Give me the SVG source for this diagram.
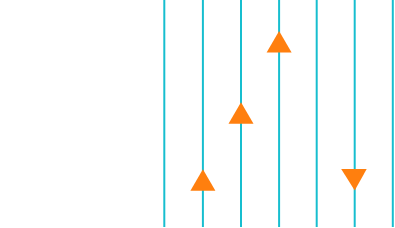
<svg xmlns="http://www.w3.org/2000/svg" width="395" height="228" viewBox="0 0 395 228">
<style>
.ln{stroke:#17becf;stroke-width:2;fill:none}
.tri{fill:#ff7f0e}
</style>
<rect width="395" height="228" fill="#ffffff"/>
<g id="connectors">
<line class="ln" x1="164.3" y1="0" x2="164.3" y2="227"/>
<line class="ln" x1="202.9" y1="0" x2="202.9" y2="227"/>
<line class="ln" x1="241" y1="0" x2="241" y2="227"/>
<line class="ln" x1="279.1" y1="0" x2="279.1" y2="227"/>
<line class="ln" x1="316.7" y1="0" x2="316.7" y2="227"/>
<line class="ln" x1="354.7" y1="0" x2="354.7" y2="227"/>
<line class="ln" x1="392.8" y1="0" x2="392.8" y2="227"/>
</g>
<g id="tri1"><polygon class="tri" points="279.1,31 291.6,52.5 266.6,52.5"/></g>
<g id="tri2"><polygon class="tri" points="241,102.2 253.5,123.7 228.5,123.7"/></g>
<g id="tri3"><polygon class="tri" points="202.9,169.2 215.4,190.7 190.4,190.7"/></g>
<g id="tri4"><polygon class="tri" points="341.2,169 366.7,169 354.7,190.5"/></g>
</svg>
